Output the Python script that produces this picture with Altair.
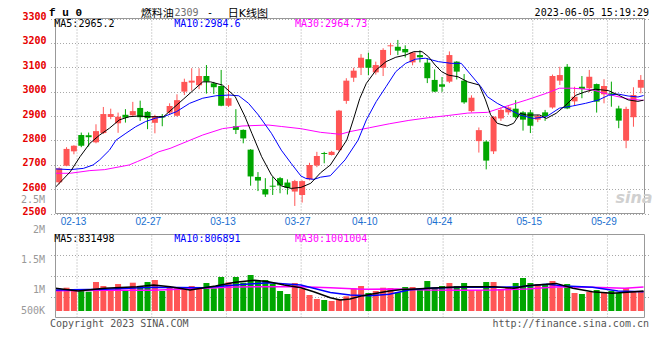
import altair as alt
import pandas as pd

# ---------------- data ----------------
days = ["02-08", "02-09", "02-10", "02-13", "02-14", "02-15", "02-16", "02-17",
        "02-20", "02-21", "02-22", "02-23", "02-24", "02-27", "02-28", "03-01", "03-02", "03-03",
        "03-06", "03-07", "03-08", "03-09", "03-10", "03-13", "03-14", "03-15", "03-16", "03-17",
        "03-20", "03-21", "03-22", "03-23", "03-24", "03-27", "03-28", "03-29", "03-30", "03-31",
        "04-03", "04-04", "04-06", "04-07", "04-10", "04-11", "04-12", "04-13", "04-14",
        "04-17", "04-18", "04-19", "04-20", "04-21", "04-24", "04-25", "04-26", "04-27", "04-28",
        "05-04", "05-05", "05-08", "05-09", "05-10", "05-11", "05-12", "05-15", "05-16", "05-17",
        "05-18", "05-19", "05-22", "05-23", "05-24", "05-25", "05-26", "05-29", "05-30", "05-31",
        "06-01", "06-02", "06-05"]

open_ = [2628, 2696, 2755, 2822, 2821, 2792, 2830, 2896, 2870, 2905,
         2903, 2933, 2917, 2872, 2900, 2914, 2901, 3000, 3037, 3026,
         3064, 3034, 3023, 2942, 2858, 2843, 2762, 2650, 2600, 2614,
         2645, 2627, 2590, 2576, 2640, 2697, 2748, 2740, 2760, 2962,
         3057, 3098, 3133, 3079, 3098, 3186, 3184, 3175, 3120, 3150,
         3119, 3048, 3030, 3041, 3123, 3045, 2920, 2797, 2795, 2755,
         2890, 2915, 2930, 2915, 2915, 2885, 2915, 2935, 3045, 3102,
         2960, 3020, 3014, 3031, 2989, 2993, 2931, 2799, 2895, 3016]
high = [2690, 2772, 2780, 2832, 2832, 2866, 2937, 2930, 2914, 2928,
        2958, 2963, 2920, 2905, 2908, 2952, 2989, 3053, 3096, 3096,
        3109, 3040, 3089, 3027, 2928, 2845, 2764, 2670, 2645, 2650,
        2650, 2640, 2638, 2636, 2708, 2753, 2753, 2757, 2925, 3055,
        3098, 3154, 3160, 3123, 3178, 3200, 3212, 3190, 3163, 3170,
        3138, 3091, 3060, 3165, 3125, 3072, 2985, 2853, 2800, 2900,
        2935, 2940, 2965, 2920, 2925, 2905, 2925, 3070, 3102, 3113,
        3020, 3064, 3089, 3033, 3051, 3041, 2942, 2938, 3018, 3068]
low = [2620, 2694, 2743, 2772, 2775, 2788, 2826, 2887, 2831, 2873,
       2898, 2880, 2846, 2829, 2858, 2905, 2898, 2986, 3004, 3010,
       2992, 2990, 2940, 2937, 2826, 2788, 2614, 2592, 2568, 2576,
       2583, 2578, 2531, 2545, 2636, 2690, 2706, 2738, 2755, 2950,
       3040, 3068, 3068, 3070, 3064, 3150, 3150, 3140, 3108, 3120,
       3035, 2998, 2999, 3035, 3050, 2950, 2915, 2750, 2681, 2744,
       2880, 2905, 2890, 2840, 2830, 2875, 2880, 2930, 3027, 2928,
       2945, 2973, 2998, 2914, 2952, 2938, 2850, 2768, 2856, 2993]
close = [2685, 2765, 2778, 2778, 2813, 2838, 2908, 2908, 2897, 2893,
         2920, 2895, 2891, 2900, 2894, 2941, 2965, 3040, 3045, 3064,
         3041, 3018, 2942, 2973, 2843, 2808, 2652, 2635, 2578, 2610,
         2615, 2605, 2633, 2633, 2699, 2736, 2744, 2753, 2922, 3045,
         3086, 3139, 3098, 3109, 3171, 3190, 3168, 3161, 3161, 3141,
         3055, 3000, 3020, 3150, 3082, 2956, 2975, 2842, 2717, 2897,
         2925, 2935, 2895, 2885, 2860, 2900, 2900, 3064, 3068, 2931,
         2979, 3011, 3061, 2959, 3023, 2987, 2881, 2929, 2986, 3048]
volume = [846000, 971000, 875000, 917000, 804000, 1208000, 1042000, 875000, 1125000, 846000,
          1179000, 1042000, 1208000, 1292000, 833000, 971000, 946000, 929000, 1042000, 971000,
          1167000, 946000, 1417000, 1196000, 1417000, 1179000, 1500000, 1263000, 1292000, 1125000,
          833000, 708000, 1167000, 929000, 667000, 500000, 458000, 417000, 500000, 613000,
          946000, 1042000, 750000, 833000, 971000, 958000, 779000, 1000000, 1000000, 875000,
          1250000, 971000, 1042000, 1167000, 1042000, 1167000, 875000, 875000, 1208000, 1208000,
          917000, 1000000, 1167000, 1375000, 1167000, 1125000, 1083000, 1250000, 971000, 1125000,
          750000, 708000, 792000, 875000, 792000, 833000, 750000, 958000, 833000, 833000]

# moving-average lines (position in trading-day slots, value)
ma5_pos = [0.0, 2.0, 3.33, 4.67, 6.0, 7.33, 8.67, 10.0, 11.33, 12.67, 14.67, 17.33, 20.0, 21.07,
           22.67, 24.4, 25.7, 26.67, 28.0, 29.33, 30.67, 32.0, 33.33, 34.67, 36.0, 37.33, 39.56,
           40.44, 41.33, 42.22, 43.56, 44.89, 46.22, 47.56, 48.67, 49.78, 50.67, 51.56, 52.44,
           53.33, 54.67, 56.0, 57.56, 58.4, 59.1, 60.0, 61.33, 62.22, 63.11, 64.0, 65.78, 66.67,
           68.0, 69.33, 70.67, 72.0, 73.33, 75.11, 76.44, 77.78, 79.11, 79.87]
ma5_val = [2608, 2671, 2733, 2788, 2822, 2850, 2884, 2897, 2900, 2897, 2897, 2968, 3040, 3040,
           3027, 2980, 2900, 2829, 2733, 2658, 2613, 2603, 2607, 2624, 2667, 2699, 2801,
           2884, 2972, 3034, 3089, 3123, 3141, 3150, 3164, 3164, 3143, 3109, 3082,
           3068, 3061, 3040, 3027, 2966, 2905, 2870, 2859, 2870, 2911, 2904, 2904, 2890,
           2911, 2945, 2985, 3000, 3010, 3004, 2986, 2966, 2960, 2965]
ma10_pos = [0.0, 2.0, 3.78, 5.1, 6.0, 7.33, 8.22, 9.56, 10.89, 12.22, 13.56, 14.67, 16.44, 18.22,
            20.0, 21.78, 23.56, 24.89, 26.22, 27.56, 29.33, 30.67, 32.0, 33.33, 34.0, 35.11, 36.0,
            37.33, 39.33, 41.1, 42.22, 43.56, 44.89, 46.22, 47.56, 48.89, 50.22, 52.0, 53.78,
            55.11, 56.44, 57.78, 58.67, 60.0, 60.89, 63.11, 64.89, 66.67, 68.44, 70.22, 72.0,
            73.78, 75.11, 76.44, 77.78, 79.11, 79.87]
ma10_val = [2683, 2680, 2685, 2699, 2720, 2760, 2801, 2829, 2856, 2877, 2891, 2897, 2918, 2952,
            2973, 2983, 2986, 2983, 2952, 2904, 2829, 2760, 2706, 2654, 2644, 2640, 2649,
            2655, 2720, 2801, 2884, 2959, 3020, 3082, 3116, 3133, 3137, 3123, 3116,
            3116, 3068, 3020, 2979, 2952, 2938, 2904, 2890, 2897, 2932, 2941, 2952,
            2966, 2985, 2990, 2982, 2978, 2984]
ma30_pos = [0.0, 2.0, 4.67, 6.67, 10.0, 11.11, 12.67, 14.0, 15.56, 20.0, 22.67, 25.33, 28.89,
            30.67, 33.33, 36.0, 37.33, 38.67, 40.0, 42.67, 45.33, 48.0, 50.67, 53.33, 56.0,
            58.67, 61.33, 64.0, 66.67, 68.44, 70.22, 72.89, 74.2, 76.0, 77.78, 79.87]
ma30_val = [2665, 2665, 2676, 2680, 2699, 2713, 2733, 2753, 2767, 2822, 2848, 2859, 2863,
            2857, 2848, 2833, 2829, 2825, 2836, 2852, 2868, 2882, 2893, 2902, 2912,
            2915, 2941, 2966, 2993, 3014, 3014, 3008, 2996, 2982, 2970, 2964]

vma5_pos = [0.0, 3.07, 6.67, 11.07, 13.33, 15.6, 18.27, 21.73, 24.4, 27.07, 28.93, 31.07, 33.33,
            35.07, 37.33, 38.67, 40.0, 41.73, 43.6, 45.33, 47.07, 48.93, 50.67, 53.33, 56.0,
            59.6, 62.27, 64.0, 66.67, 68.0, 70.27, 72.93, 75.6, 78.67, 79.87]
vma5_val = [946000, 833000, 946000, 1010000, 1080000, 1010000, 875000, 1040000, 1200000, 1280000,
            1220000, 1080000, 970000, 800000, 550000, 460000, 500000, 640000, 740000, 830000,
            900000, 920000, 950000, 990000, 1010000, 1010000, 950000, 1050000, 1110000, 1150000,
            950000, 800000, 740000, 800000, 831498]
vma10_pos = [0.0, 6.67, 13.33, 20.0, 24.4, 28.93, 33.33, 37.33, 40.0, 42.67, 45.33, 48.0, 50.67,
             55.07, 59.6, 63.07, 66.67, 69.33, 72.93, 76.4, 79.87]
vma10_val = [875000, 904000, 988000, 971000, 1083000, 1179000, 1083000, 770000, 667000, 638000,
             696000, 875000, 946000, 988000, 988000, 1010000, 1110000, 1040000, 990000, 833000,
             806891]
vma30_pos = [0.0, 6.67, 13.33, 20.0, 24.4, 28.93, 33.33, 37.33, 41.73, 46.27, 50.67, 55.07,
             59.6, 64.0, 68.4, 72.93, 77.33, 79.87]
vma30_val = [846000, 863000, 863000, 946000, 1000000, 1010000, 1010000, 967000, 904000, 917000,
             875000, 863000, 875000, 917000, 1010000, 990000, 946000, 1001004]

tick_labels = ["02-13", "02-27", "03-13", "03-27", "04-10", "04-24", "05-15", "05-29"]
price_ticks = [2500, 2600, 2700, 2800, 2900, 3000, 3100, 3200, 3300]
vol_axis_text = ["2.5M", "2M", "1.5M", "1M", "500K"]
vol_axis_at = [4625000, 3375000, 2125000, 875000, 0]

# ---------------- styling ----------------
RED = "#ff5555"
GREEN = "#00a600"
GRID = "#a8a8a8"
BORDER = "#999999"
MONO = "DejaVu Sans Mono"
CJK = "DejaVu Sans, Noto Sans CJK SC"
GRID_STEP = 1.0147  # Sina's grid spacing, slightly wider than one candle slot

PLO, PHI = 2500, 3300
VLO, VHI = -270800, 3187500

xs = alt.Scale(domain=[0, 80], range=[0.5, 599.5], nice=False, zero=False)
ps = alt.Scale(domain=[PLO, PHI], range=[195.5, 0.5], nice=False, zero=False)
vs = alt.Scale(domain=[VLO, VHI], range=[299.5, 216.5], nice=False, zero=False)

p_axis = alt.Axis(values=price_ticks, format="d", grid=True, gridDash=[1, 2], gridColor=GRID,
                  labelColor="#e60000", labelFont=MONO, labelFontWeight="bold",
                  labelFontSize=10, labelPadding=4, labelOffset=-2, labelFlush=False,
                  labelOverlap=False, ticks=False, domain=False, title=None, orient="left")
v_axis = alt.Axis(values=[VLO + (VHI - VLO) * k / 4 for k in (1, 2, 3)], grid=True,
                  gridDash=[1, 2], gridColor=GRID, labels=False, ticks=False, domain=False,
                  title=None, orient="left")


def X(f):
    return alt.X(f, type="quantitative", scale=xs, axis=None)


def YP(f):
    return alt.Y(f, type="quantitative", scale=ps, axis=p_axis)


def YV(f):
    return alt.Y(f, type="quantitative", scale=vs, axis=v_axis)


dir_color = alt.Color("dir:N", scale=alt.Scale(domain=["up", "down"], range=[RED, GREEN]),
                      legend=None)

k = pd.DataFrame({"open": open_, "high": high, "low": low, "close": close, "vol": volume})
k["pos"] = [i + 0.5 for i in range(len(k))]
k["dir"] = ["up" if c >= o else "down" for o, c in zip(open_, close)]
k["zero"] = 0

ticks = pd.DataFrame({"label": tick_labels})
ticks["gpos"] = [days.index(t) * GRID_STEP - 0.12 for t in tick_labels]
ticks["plo"], ticks["phi"] = PLO, PHI
ticks["vlo"], ticks["vhi"] = VLO, VHI

frame = pd.DataFrame({"x0": [0], "x1": [80], "plo": [PLO], "phi": [PHI], "vlo": [VLO], "vhi": [VHI]})
one = pd.DataFrame({"a": [0]})


def line_df(pos, val):
    return pd.DataFrame({"pos": pos, "val": val})


def label(text, x, y, color="black", align="left", font=MONO, size=10, weight="normal", style="normal"):
    return alt.Chart(one).mark_text(align=align, baseline="middle", font=font, fontSize=size,
                                    fontWeight=weight, fontStyle=style, color=color).encode(
        x=alt.value(x), y=alt.value(y), text=alt.value(text))


# ---------------- price panel ----------------
vgrid_p = alt.Chart(ticks).mark_rule(color=GRID, strokeDash=[1, 2], strokeWidth=1).encode(
    x=X("gpos"), y=YP("plo"), y2="phi")
wicks = alt.Chart(k).mark_rule(strokeWidth=1).encode(x=X("pos"), y=YP("low"), y2="high", color=dir_color)
bodies = alt.Chart(k).mark_bar(size=6).encode(x=X("pos"), y=YP("open"), y2="close", color=dir_color)
ma30 = alt.Chart(line_df(ma30_pos, ma30_val)).mark_line(color="#ff00ff", strokeWidth=1).encode(
    x=X("pos"), y=YP("val"))
ma10 = alt.Chart(line_df(ma10_pos, ma10_val)).mark_line(color="#0000ff", strokeWidth=1).encode(
    x=X("pos"), y=YP("val"))
ma5 = alt.Chart(line_df(ma5_pos, ma5_val)).mark_line(color="#000000", strokeWidth=1).encode(
    x=X("pos"), y=YP("val"))
frame_p = alt.Chart(frame).mark_rect(filled=False, stroke=BORDER, strokeWidth=1).encode(
    x=X("x0"), x2="x1", y=YP("plo"), y2="phi")
date_text = alt.Chart(ticks).mark_text(font="Liberation Sans", fontSize=10, color="#1a6fd0",
                                       baseline="middle", dx=-3.5, dy=8).encode(
    x=X("gpos"), y=YP("plo"), text="label:N")

HY = -4  # header text line (kept inside the page's drawable area)
main = alt.layer(
    vgrid_p, wicks, bodies, ma30, ma10, ma5, frame_p, date_text,
    label("f u 0", -1, HY - 1, font="Liberation Mono", size=11, weight="bold"),
    label("燃料油", 90.7, HY, font=CJK, size=11),
    label("2309", 124.5, HY - 1, color="#707070"),
    label("-", 160, HY - 1, align="center"),
    label("日K线图", 177.7, HY, font=CJK, size=11),
    label("2023-06-05 15:19:29", 599, HY - 1, align="right"),
    label("MA5:2965.2", 4.3, 5.7),
    label("MA10:2984.6", 124.3, 5.7, color="#0000ff"),
    label("MA30:2964.73", 245, 5.7, color="#ff00ff"),
    label("sina", 584, 180, color="#d0d0d0", align="center", font="DejaVu Sans", size=16,
          weight="bold", style="italic"),
)

# ---------------- volume panel ----------------
vgrid_v = alt.Chart(ticks).mark_rule(color=GRID, strokeDash=[1, 2], strokeWidth=1).encode(
    x=X("gpos"), y=YV("vlo"), y2="vhi")
vbars = alt.Chart(k).mark_bar(size=6).encode(x=X("pos"), y=YV("vol"), y2="zero", color=dir_color)
vma30 = alt.Chart(line_df(vma30_pos, vma30_val)).mark_line(color="#ff00ff", strokeWidth=1.5).encode(
    x=X("pos"), y=YV("val"))
vma10 = alt.Chart(line_df(vma10_pos, vma10_val)).mark_line(color="#0000ff", strokeWidth=1.5).encode(
    x=X("pos"), y=YV("val"))
vma5 = alt.Chart(line_df(vma5_pos, vma5_val)).mark_line(color="#000000", strokeWidth=1.5).encode(
    x=X("pos"), y=YV("val"))
frame_v = alt.Chart(frame).mark_rect(filled=False, stroke=BORDER, strokeWidth=1).encode(
    x=X("x0"), x2="x1", y=YV("vlo"), y2="vhi")
vlabels = alt.Chart(pd.DataFrame({"t": vol_axis_text, "v": vol_axis_at})).mark_text(
    font=MONO, fontSize=10, color="#999999", align="right", baseline="middle").encode(
    x=alt.value(-5), y=YV("v"), text="t:N")

vol = alt.layer(
    vgrid_v, vbars, vma30, vma10, vma5, frame_v, vlabels,
    label("MA5:831498", 4.3, 220.7),
    label("MA10:806891", 124.3, 220.7, color="#0000ff"),
    label("MA30:1001004", 245, 220.7, color="#ff00ff"),
    label("Copyright 2023 SINA.COM", 0, 305.7, color="#555555"),
    label("http://finance.sina.com.cn", 599, 305.7, color="#555555", align="right"),
)

chart = alt.layer(main, vol).resolve_scale(y="independent").properties(
    width=600, height=300,
    padding={"left": 42, "top": 10, "right": 2, "bottom": 16},
    autosize=alt.AutoSizeParams(type="none"),
    background="white",
).configure_view(stroke=None)

chart.save("out.html", embed_options={"renderer": "svg", "actions": False})
